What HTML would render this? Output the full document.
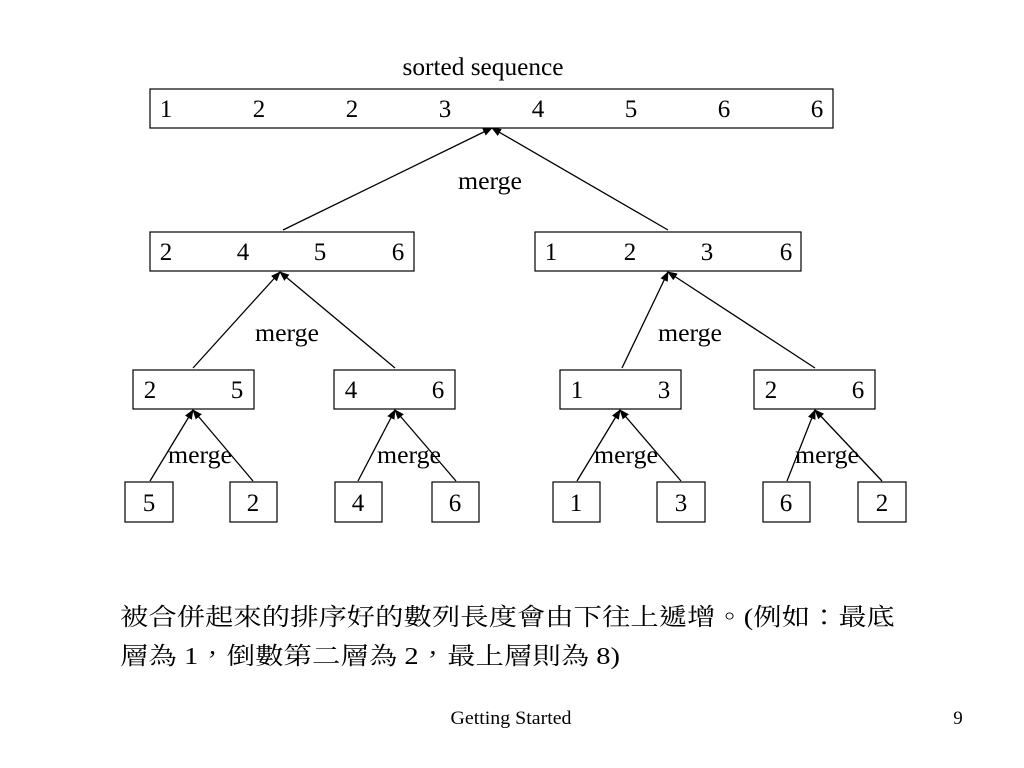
<!DOCTYPE html>
<html><head><meta charset="utf-8"><style>
html,body{margin:0;padding:0;background:#fff;}
svg{display:block;}
text{font-family:"Liberation Serif","Noto Serif CJK SC",serif;fill:#000;}
.c{font-family:"Liberation Serif","Noto Serif CJK TC","Noto Serif CJK SC",serif;}
</style></head><body>
<svg width="1024" height="768" viewBox="0 0 1024 768" xmlns="http://www.w3.org/2000/svg">
<defs><marker id="a" markerWidth="10" markerHeight="8" refX="9" refY="4" orient="auto" markerUnits="userSpaceOnUse"><path d="M0,0 L10,4 L0,8 Z" fill="#000"/></marker></defs>
<g fill="none" stroke="#000" stroke-width="1.2">
<rect x="150" y="89" width="683" height="39"/>
<rect x="150" y="232" width="264" height="39"/>
<rect x="535" y="232" width="266" height="39"/>
<rect x="133" y="370" width="121" height="39"/>
<rect x="334" y="370" width="121" height="39"/>
<rect x="560" y="370" width="121" height="39"/>
<rect x="754" y="370" width="121" height="39"/>
<rect x="125" y="482" width="48" height="40"/>
<rect x="230" y="482" width="47" height="40"/>
<rect x="335" y="482" width="47" height="40"/>
<rect x="432" y="482" width="47" height="40"/>
<rect x="553" y="482" width="47" height="40"/>
<rect x="657" y="482" width="48" height="40"/>
<rect x="763" y="482" width="47" height="40"/>
<rect x="858" y="482" width="48" height="40"/>
</g>
<g stroke="#000" stroke-width="1.3" marker-end="url(#a)">
<line x1="283" y1="230" x2="492" y2="128"/>
<line x1="668" y1="230" x2="492" y2="128"/>
<line x1="193" y1="368" x2="280" y2="272"/>
<line x1="395" y1="368" x2="280" y2="272"/>
<line x1="622" y1="368" x2="668" y2="272"/>
<line x1="815" y1="368" x2="668" y2="272"/>
<line x1="150" y1="481" x2="193" y2="410"/>
<line x1="253" y1="481" x2="193" y2="410"/>
<line x1="358" y1="481" x2="395" y2="410"/>
<line x1="456" y1="481" x2="395" y2="410"/>
<line x1="577" y1="481" x2="620" y2="410"/>
<line x1="681" y1="481" x2="620" y2="410"/>
<line x1="787" y1="481" x2="815" y2="410"/>
<line x1="882" y1="481" x2="815" y2="410"/>
</g>
<g font-size="25" text-anchor="middle">
<text x="483" y="75" textLength="161" lengthAdjust="spacingAndGlyphs">sorted sequence</text>
<text x="166" y="117">1</text><text x="259" y="117">2</text><text x="352" y="117">2</text><text x="445" y="117">3</text><text x="538" y="117">4</text><text x="631" y="117">5</text><text x="724" y="117">6</text><text x="817" y="117">6</text>
<text x="490" y="189" textLength="64" lengthAdjust="spacingAndGlyphs">merge</text>
<text x="166" y="260">2</text><text x="243" y="260">4</text><text x="320" y="260">5</text><text x="398" y="260">6</text>
<text x="551" y="260">1</text><text x="630" y="260">2</text><text x="707" y="260">3</text><text x="786" y="260">6</text>
<text x="287" y="341" textLength="64" lengthAdjust="spacingAndGlyphs">merge</text><text x="690" y="341" textLength="64" lengthAdjust="spacingAndGlyphs">merge</text>
<text x="150" y="398">2</text><text x="237" y="398">5</text>
<text x="351" y="398">4</text><text x="438" y="398">6</text>
<text x="577" y="398">1</text><text x="664" y="398">3</text>
<text x="771" y="398">2</text><text x="858" y="398">6</text>
<text x="200" y="463" textLength="64" lengthAdjust="spacingAndGlyphs">merge</text><text x="409" y="463" textLength="64" lengthAdjust="spacingAndGlyphs">merge</text><text x="626" y="463" textLength="64" lengthAdjust="spacingAndGlyphs">merge</text><text x="827" y="463" textLength="64" lengthAdjust="spacingAndGlyphs">merge</text>
<text x="149" y="511">5</text><text x="253" y="511">2</text><text x="358" y="511">4</text><text x="455" y="511">6</text>
<text x="576" y="511">1</text><text x="681" y="511">3</text><text x="786" y="511">6</text><text x="882" y="511">2</text>
</g>
<text class="c" x="120" y="625" font-size="24" textLength="775" lengthAdjust="spacingAndGlyphs">被合併起來的排序好的數列長度會由下往上遞增。(例如：最底</text>
<text class="c" x="120" y="664" font-size="24" textLength="500" lengthAdjust="spacingAndGlyphs">層為 1，倒數第二層為 2，最上層則為 8)</text>
<text x="511" y="724" font-size="19" text-anchor="middle" textLength="121" lengthAdjust="spacingAndGlyphs">Getting Started</text>
<text x="958" y="724" font-size="19" text-anchor="middle">9</text>
</svg>
</body></html>
